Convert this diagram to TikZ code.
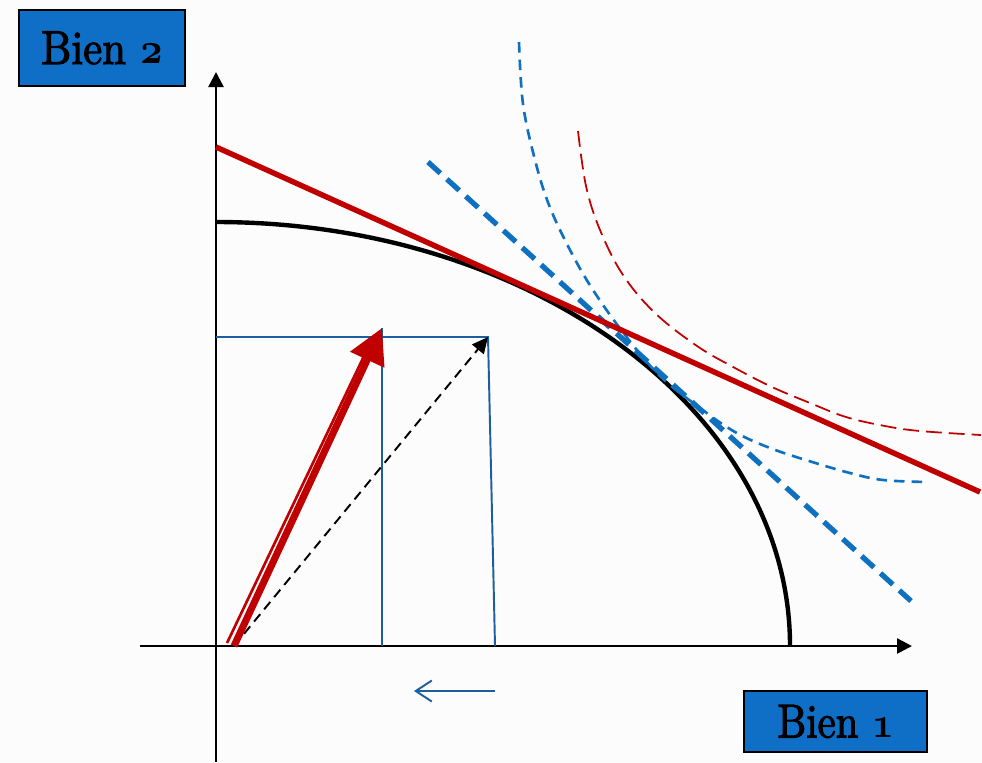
\documentclass[tikz,border=0pt]{standalone}
\usepackage{fontspec}
\newfontfamily\boxfont{lmroman10-regular.otf}[FakeBold=2.5]
\newcommand\osnum[1]{{\usefont{OML}{cmm}{b}{it}#1}}
\usetikzlibrary{arrows.meta}
\definecolor{boxblue}{RGB}{15,111,198}
\definecolor{lineblue}{RGB}{28,94,158}
\definecolor{dashblue}{RGB}{16,112,192}
\definecolor{dred}{RGB}{192,0,0}
\definecolor{bg}{RGB}{252,252,252}
\tikzset{
  labelbox/.style={draw=black, line width=0.85pt, fill=boxblue, inner sep=0pt,
    font=\boxfont\fontsize{27}{32}\selectfont, text=black},
  axis/.style={line width=1.4pt, -{Triangle[length=0.3cm,width=0.3cm]}},
  rectline/.style={lineblue, line width=1.1pt},
  ppf/.style={black, line width=2.5pt},
  icblue/.style={dashblue, line width=1.5pt, dash pattern=on 6pt off 4pt},
  icred/.style={dred, line width=1pt, dash pattern=on 9pt off 4pt},
  budgetblue/.style={dashblue, line width=3pt, dash pattern=on 9.5pt off 5pt},
  budgetred/.style={dred, line width=3.1pt},
}
\begin{document}
\begin{tikzpicture}[x=0.02cm, y=-0.02cm]
\fill[bg] (0,0) rectangle (982,762);
\useasboundingbox (0,0) rectangle (982,762);

% key points
\coordinate (O) at (216,646);
\coordinate (ytop) at (216,72);
\coordinate (ybot) at (216,762);
\coordinate (xleft) at (140,646);
\coordinate (xright) at (912,646);

% label boxes
\node[labelbox, minimum width=3.32cm, minimum height=1.52cm] (b2) at (102,48) {\scalebox{0.9}[1]{Bien \osnum{2}}};
\node[labelbox, minimum width=3.66cm, minimum height=1.22cm] (b1) at (835.5,721.5) {\scalebox{0.86}[1]{Bien \osnum{1}}};

% axes
\draw[axis] (ybot) -- (ytop);
\draw[axis] (xleft) -- (xright);

% blue rectangle lines
\coordinate (hl) at (216,337);
\coordinate (hr) at (488,337);
\coordinate (vt) at (382,328);
\coordinate (vb) at (382,646);
\coordinate (sb) at (495,646);
\draw[rectline] (hl) -- (hr) -- (sb);
\draw[rectline] (vt) -- (vb);

% black dashed arrow
\coordinate (a0) at (234,646);
\draw[line width=1.1pt, dash pattern=on 5.5pt off 3.5pt, -{Triangle[length=0.32cm,width=0.3cm]}] (a0) -- (hr);

% red arrows
\coordinate (r0) at (227,643);
\coordinate (r1) at (364,356);
\coordinate (rt) at (382,328);
\draw[dred, line width=1.5pt] (r0) -- (r1);
\draw[dred, line width=4pt, -{Triangle[length=0.7cm,width=0.72cm]}] (a0) -- (rt);

% production possibility frontier (quarter ellipse)
\coordinate (p0) at (216,222);
\coordinate (p3) at (790,646);
\draw[ppf] (p0) .. controls (533,222) and (790,412) .. (p3);

% indifference curves
\draw[icred] plot[smooth, tension=0.6] coordinates {(578,131) (586,186) (600,230) (623,275) (655,313) (697,346) (735,368) (772,387) (810,403) (846,417) (885,426) (920,431) (981,435)};
\draw[icblue] plot[smooth, tension=0.6] coordinates {(519,42) (523,104) (535,160) (549,205) (570,250) (593,290) (625,335) (660,376) (700,408) (735,432) (770,448) (809,461) (850,473) (883,480) (928,482)};

% budget / price lines
\coordinate (bb0) at (428,162);
\coordinate (bb1) at (911,601);
\draw[budgetblue] (bb0) -- (bb1);
\coordinate (br0) at (216,147);
\coordinate (br1) at (980,492);
\draw[budgetred] (br0) -- (br1);

% small blue arrow
\coordinate (s0) at (495,691);
\coordinate (s1) at (414,691);
\draw[lineblue, line width=1.1pt, -{Straight Barb[length=0.32cm,width=0.42cm]}] (s0) -- (s1);
\end{tikzpicture}
\end{document}
